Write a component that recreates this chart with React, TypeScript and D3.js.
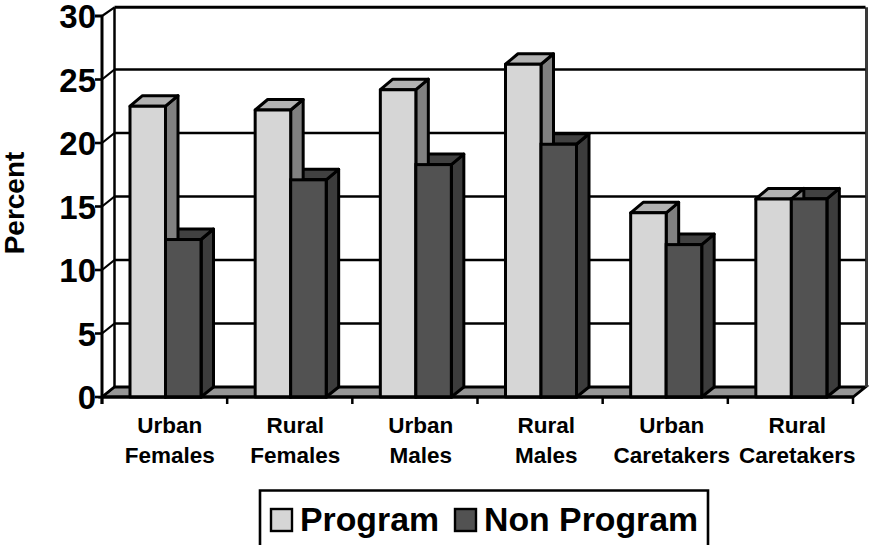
import React from "react";
import * as d3 from "d3";

const categories = [["Urban", "Females"], ["Rural", "Females"], ["Urban", "Males"], ["Rural", "Males"], ["Urban", "Caretakers"], ["Rural", "Caretakers"]];
const programValues = [22.9, 22.6, 24.2, 26.2, 14.5, 15.6];
const nonProgramValues = [12.4, 17.1, 18.3, 19.9, 12.0, 15.6];
const yTicks = [0, 5, 10, 15, 20, 25, 30];
const seriesNames = ["Program", "Non Program"];

const FONT = "'Liberation Sans', Arial, sans-serif";
const DX = 12.5;
const DY = -10;
const BAR_DY = -10.5;
const c = {
  front: ["#d6d6d6", "#525252"],
  top: ["#b2b2b2", "#414141"],
  side: ["#808080", "#3c3c3c"],
};

export default function App() {
  const y = d3.scaleLinear().domain([0, 30]).range([397, 16]);
  const x = d3.scaleBand<number>().domain(d3.range(6)).range([102, 853]);
  const labelX = d3.scaleBand<number>().domain(d3.range(6)).range([107, 860]);
  const inner = d3.scaleBand<number>().domain([0, 1]).range([28, 99]);
  const pts = (a: number[][]) => a.map((p) => p.join(",")).join(" ");
  const x0 = 102, x1 = 853, bottom = y(0);
  const topY = 7.3;

  const drawBar = (cat: number, s: number, v: number) => {
    const l = x(cat)! + inner(s)!;
    const r = l + inner.bandwidth();
    const t = y(v);
    return (
      <g key={`${cat}-${s}`} stroke="#000" strokeWidth={3} strokeLinejoin="round">
        <polygon fill={c.side[s]} points={pts([[r, t], [r + DX, t + BAR_DY], [r + DX, bottom + DY], [r, bottom]])} />
        <polygon fill={c.top[s]} points={pts([[l, t], [l + DX, t + BAR_DY], [r + DX, t + BAR_DY], [r, t]])} />
        <rect x={l} y={t} width={r - l} height={bottom - t} fill={c.front[s]} />
      </g>
    );
  };

  return (
    <svg width={869} height={545} style={{ position: "absolute", left: 0, top: 0, background: "#fff" }}>
      <polygon fill="#969696" stroke="#000" strokeWidth={2.8} points={pts([[x0, bottom], [x0 + DX, bottom + DY], [x1 + DX, bottom + DY], [x1, bottom]])} />
      <line x1={x0 + DX} x2={x0 + DX} y1={topY} y2={bottom + DY} stroke="#000" strokeWidth={2.5} />
      <line x1={x1 + DX + 1} x2={x1 + DX + 1} y1={topY} y2={bottom + DY} stroke="#3a3a3a" strokeWidth={3} />
      {yTicks.map((t) => {
        const wy = t === 30 ? topY : y(t) + DY;
        return (
          <g key={t} stroke="#000" strokeWidth={t === 30 ? 3 : 2.6}>
            {t > 0 && <line x1={x0 + DX} x2={x1 + DX} y1={wy} y2={wy} />}
            <line x1={x0} x2={x0 + DX} y1={y(t)} y2={wy} strokeWidth={2.2} />
            <line x1={x0 - 7} x2={x0} y1={y(t)} y2={y(t)} />
          </g>
        );
      })}
      {d3.range(6).map((i) => (
        <g key={i}>
          {drawBar(i, 1, nonProgramValues[i])}
          {drawBar(i, 0, programValues[i])}
          <rect x={x(i)! + inner(1)!} y={y(nonProgramValues[i])} width={inner.bandwidth()} height={bottom - y(nonProgramValues[i])} fill={c.front[1]} stroke="#000" strokeWidth={3} />
        </g>
      ))}
      <line x1={x0} x2={x0} y1={y(30)} y2={bottom + 7} stroke="#000" strokeWidth={3} />
      <line x1={x0} x2={x1} y1={bottom} y2={bottom} stroke="#000" strokeWidth={3} />
      {d3.range(7).map((i) => {
        const px = i < 6 ? x(i)! : x1;
        return <line key={i} x1={px} x2={px} y1={bottom} y2={bottom + 7} stroke="#000" strokeWidth={2.5} />;
      })}
      {yTicks.map((t) => (
        <text key={t} x={96} y={y(t) + 12} textAnchor="end" fontFamily={FONT} fontWeight="bold" fontSize={33} fill="#000">{t}</text>
      ))}
      <text transform="translate(24,203) rotate(-90)" textAnchor="middle" fontFamily={FONT} fontWeight="bold" fontSize={28} fill="#000">Percent</text>
      {categories.map((lines, i) => (
        <text key={i} textAnchor="middle" fontFamily={FONT} fontWeight="bold" fontSize={22.5} fill="#000">
          {lines.map((ln, j) => (
            <tspan key={j} x={labelX(i)! + labelX.bandwidth() / 2} y={433 + j * 30}>{ln}</tspan>
          ))}
        </text>
      ))}
      <path d="M260,545 V490.5 H708 V545" fill="none" stroke="#000" strokeWidth={2.6} />
      {seriesNames.map((n, i) => {
        const sx = [271, 455][i];
        const tx = [300, 484][i];
        return (
          <g key={n}>
            <rect x={sx} y={509} width={21} height={22} fill={c.front[i]} stroke="#000" strokeWidth={2.4} />
            <text x={tx} y={531} fontFamily={FONT} fontWeight="bold" fontSize={33.8} fill="#000">{n}</text>
          </g>
        );
      })}
    </svg>
  );
}
